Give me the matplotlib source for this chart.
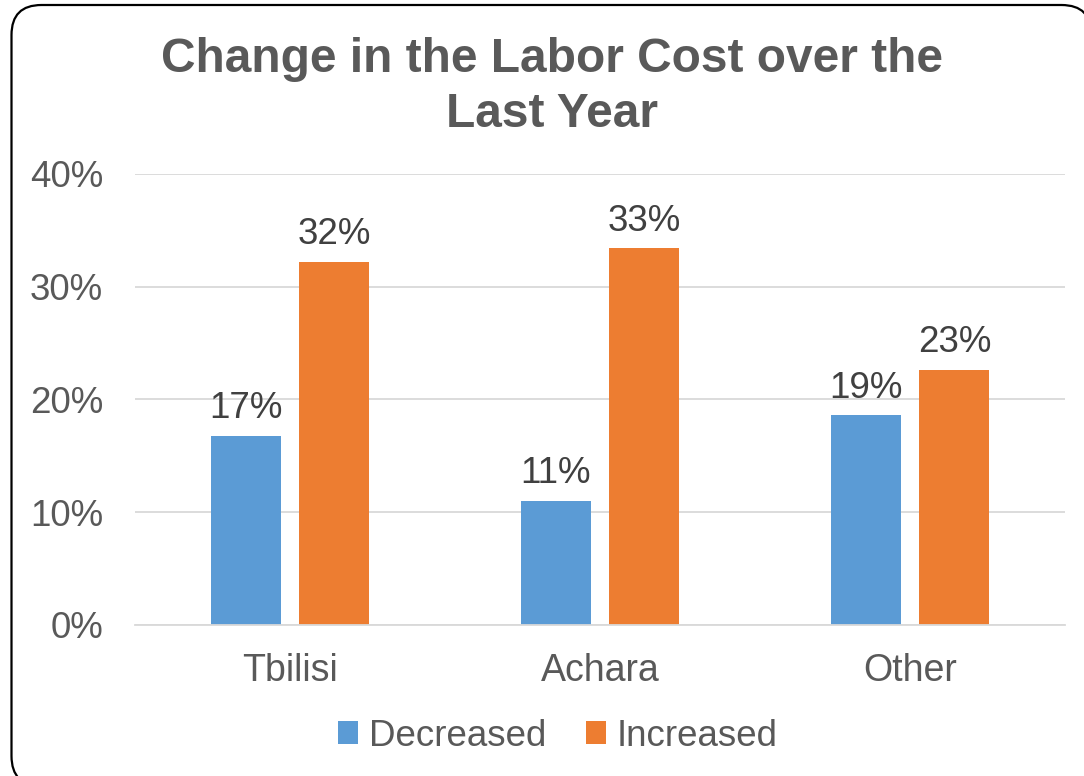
import numpy as np
import matplotlib.pyplot as plt
from matplotlib.patches import FancyBboxPatch, Polygon
from matplotlib.transforms import IdentityTransform
from matplotlib.ticker import PercentFormatter

# values (share of firms)
regions = ['Tbilisi', 'Achara', 'Other']
decreased = [0.168, 0.110, 0.186]
increased = [0.322, 0.334, 0.226]
series_names = ['Decreased', 'Increased']
yticks = [0, 0.1, 0.2, 0.3, 0.4]

blue = '#5B9BD5'
orange = '#ED7D31'
gray = '#595959'
grid = '#D9D9D9'
fs = 26.5

plt.rcParams['font.family'] = ['Liberation Sans', 'DejaVu Sans']

fig = plt.figure(figsize=(10.84, 7.76), dpi=100)
ax = fig.add_axes([0.1245, 0.1946, 0.858, 0.5812])

x = np.arange(len(regions))
w = 0.225
b1 = ax.bar(x - 0.143, decreased, w, color=blue, label=series_names[0])
b2 = ax.bar(x + 0.143, increased, w, color=orange, label=series_names[1])

for bars in (b1, b2):
    ax.bar_label(bars, labels=[f'{v:.0%}' for v in bars.datavalues],
                 padding=7, fontsize=fs, color='#404040')

ax.set_ylim(0, 0.4)
ax.set_xlim(-0.5, 2.5)
ax.set_yticks(yticks)
ax.yaxis.set_major_formatter(PercentFormatter(1.0, decimals=0))
ax.set_xticks(x)
ax.set_xticklabels(regions)
ax.tick_params(axis='y', length=0, pad=23, labelsize=fs, labelcolor=gray)
ax.tick_params(axis='x', length=0, pad=20, labelsize=27, labelcolor=gray)
ax.grid(axis='y', color=grid, linewidth=1.3)
ax.set_axisbelow(True)
for s in ['top', 'right', 'left']:
    ax.spines[s].set_visible(False)
ax.spines['bottom'].set_color(grid)
ax.spines['bottom'].set_linewidth(1.3)

# title on two lines
fig.text(552 / 1084, 1 - 72 / 776, 'Change in the Labor Cost over the',
         ha='center', va='baseline', fontsize=34.5, fontweight='bold', color=gray)
fig.text(552 / 1084, 1 - 127 / 776, 'Last Year',
         ha='center', va='baseline', fontsize=34.5, fontweight='bold', color=gray)

fig.legend(handles=[b1, b2], labels=series_names, loc='center',
           bbox_to_anchor=(558 / 1084, 1 - 736 / 776), ncol=2, frameon=False,
           fontsize=fs, labelcolor=gray, handlelength=0.55, handleheight=0.55,
           handletextpad=0.3, columnspacing=1.05, borderpad=0)

# rounded frame around the chart (flattened to a polygon so the
# part running off the canvas gets clipped cleanly)
box = FancyBboxPatch((11.5, -10), 1080, 781, boxstyle='round,pad=0,rounding_size=30')
verts = box.get_path().to_polygons(closed_only=False)[0]
frame = Polygon(verts, closed=True, fill=False, edgecolor='black',
                linewidth=1.6, transform=IdentityTransform())
fig.add_artist(frame)

fig.savefig('out.png', dpi=100)
